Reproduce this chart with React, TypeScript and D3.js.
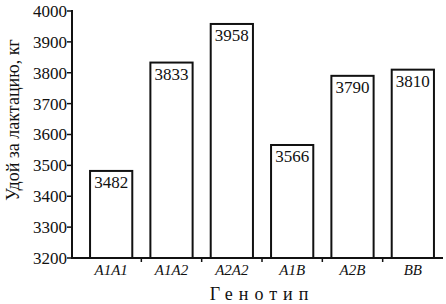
import * as d3 from 'd3';

const genotypes = ['A1A1', 'A1A2', 'A2A2', 'A1B', 'A2B', 'BB'];
const yields = [3482, 3833, 3958, 3566, 3790, 3810];
const yTicks = [3200, 3300, 3400, 3500, 3600, 3700, 3800, 3900, 4000];

const W = 446;
const H = 304;
const font = "'Liberation Serif', 'Times New Roman', serif";

function App() {
  const x = d3.scaleBand().domain(genotypes).range([81, 443]).paddingInner(0.3).paddingOuter(0.15);
  const y = d3.scaleLinear().domain([3200, 4000]).range([258, 11]);
  const axisX = 72;
  const step = x.step();
  const bandStart = (g: string) => (x(g) as number) - x.paddingInner() * step / 2;

  return (
    <svg width={W} height={H} style={{ position: 'absolute', left: 0, top: 0, background: '#fff', fontFamily: font }}>
      {/* bars */}
      {genotypes.map((g, i) => (
        <g key={g}>
          <rect
            x={x(g)}
            y={y(yields[i])}
            width={x.bandwidth()}
            height={y(3200) - y(yields[i])}
            fill="#fff"
            stroke="#111"
            strokeWidth={2}
          />
          <text x={(x(g) as number) + x.bandwidth() / 2} y={y(yields[i]) + 17} textAnchor="middle" fontSize={17} fill="#111">
            {yields[i]}
          </text>
          <text x={(x(g) as number) + x.bandwidth() / 2} y={275} textAnchor="middle" fontSize={15} fontStyle="italic" fill="#111">
            {g}
          </text>
        </g>
      ))}
      {/* x ticks between bands */}
      {genotypes.slice(1).map((g) => (
        <line key={g} x1={bandStart(g)} x2={bandStart(g)} y1={258} y2={262} stroke="#111" strokeWidth={1.5} />
      ))}
      {/* axes */}
      <line x1={axisX} x2={443} y1={258} y2={258} stroke="#111" strokeWidth={2} />
      <line x1={axisX} x2={axisX} y1={10} y2={259} stroke="#111" strokeWidth={2} />
      {yTicks.map((t) => (
        <g key={t}>
          <line x1={axisX - 5} x2={axisX} y1={y(t)} y2={y(t)} stroke="#111" strokeWidth={1.5} />
          <text x={axisX - 5} y={y(t)} dy="0.35em" textAnchor="end" fontSize={17} fill="#111">
            {t}
          </text>
        </g>
      ))}
      <text transform={`translate(19,${120}) rotate(-90)`} textAnchor="middle" fontSize={18} fill="#111">
        Удой за лактацию, кг
      </text>
      <text x={262} y={300} textAnchor="middle" fontSize={18} letterSpacing={6} fill="#111">
        Генотип
      </text>
    </svg>
  );
}

export default App;
